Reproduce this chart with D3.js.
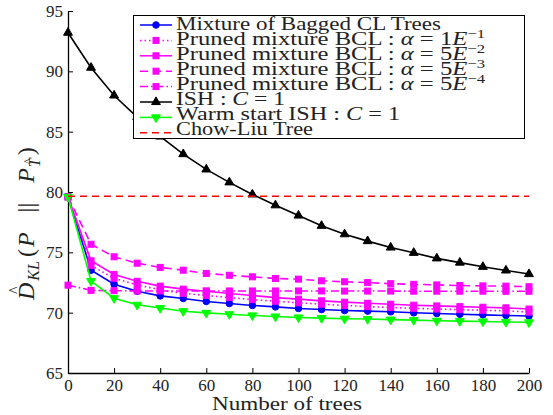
<!DOCTYPE html>
<html>
<head>
<meta charset="utf-8">
<script src="https://cdn.jsdelivr.net/npm/d3@7"></script>
<style>
  body { margin: 0; background: #fff; }
  svg text { font-family: "Liberation Serif", serif; }
</style>
</head>
<body>
<div id="chart"></div>
<script>
// chart data
var trees = [0, 10, 20, 30, 40, 50, 60, 70, 80, 90, 100, 110, 120, 130, 140, 150, 160, 170, 180, 190, 200];

var bagged   = [79.6, 73.52, 72.36, 71.78, 71.39, 71.18, 70.93, 70.76, 70.6, 70.48, 70.35, 70.26, 70.18, 70.13, 70.07, 69.99, 69.93, 69.87, 69.82, 69.77, 69.72];
var pruned1  = [79.6, 73.9, 72.85, 72.3, 71.9, 71.6, 71.42, 71.25, 71.08, 70.95, 70.82, 70.7, 70.6, 70.5, 70.43, 70.36, 70.3, 70.25, 70.2, 70.15, 70.05];
var pruned2  = [79.6, 74.3, 73.17, 72.6, 72.2, 71.95, 71.78, 71.59, 71.42, 71.25, 71.12, 70.98, 70.87, 70.78, 70.7, 70.62, 70.56, 70.5, 70.45, 70.4, 70.3];
var pruned3  = [79.6, 75.67, 74.63, 74.1, 73.75, 73.52, 73.25, 73.1, 72.97, 72.83, 72.78, 72.64, 72.56, 72.49, 72.4, 72.35, 72.3, 72.25, 72.22, 72.2, 72.15];
var pruned4  = [72.28, 71.85, 71.82, 71.8, 71.8, 71.8, 71.8, 71.8, 71.8, 71.8, 71.8, 71.8, 71.79, 71.79, 71.79, 71.78, 71.78, 71.78, 71.78, 71.77, 71.77];
var ish      = [93.2, 90.3, 88.0, 86.2, 84.6, 83.14, 81.87, 80.8, 79.8, 78.9, 78.05, 77.2, 76.5, 75.93, 75.4, 74.96, 74.5, 74.15, 73.8, 73.5, 73.2];
var warmIsh  = [79.6, 72.62, 71.2, 70.65, 70.38, 70.12, 69.98, 69.87, 69.77, 69.68, 69.6, 69.55, 69.5, 69.47, 69.42, 69.38, 69.33, 69.3, 69.27, 69.23, 69.2];
var chowLiu  = 79.65;

var xTicks = [0, 20, 40, 60, 80, 100, 120, 140, 160, 180, 200];
var yTicks = [65, 70, 75, 80, 85, 90, 95];

// series styles (matlab-ish)
var series = [
  {vals: bagged,  color: "#0000ff", dash: null,          marker: "circle"},
  {vals: pruned1, color: "#ff00ff", dash: "1.5,3",       marker: "square"},
  {vals: pruned2, color: "#ff00ff", dash: null,          marker: "square"},
  {vals: pruned3, color: "#ff00ff", dash: "8,5",         marker: "square"},
  {vals: pruned4, color: "#ff00ff", dash: "8,3,1.5,3",   marker: "square"},
  {vals: ish,     color: "#000000", dash: null,          marker: "up"},
  {vals: warmIsh, color: "#00ff00", dash: null,          marker: "down"}
];

var width = 553, height = 415;
var serif = "Liberation Serif";

var svg = d3.select("#chart")
  .append("svg")
    .attr("width", width)
    .attr("height", height);

var x = d3.scaleLinear().domain([0, 200]).range([68, 529]);
var y = d3.scaleLinear().domain([65, 95]).range([373, 11]);

function styleAxis(g) {
  g.attr("font-family", serif);
  g.select(".domain").attr("stroke", "#000").attr("stroke-width", 1.3);
  g.selectAll(".tick line").attr("stroke", "#000");
  g.selectAll("text").attr("font-size", 17).attr("fill", "#222");
}

// axes, ticks pointing inward, no box
svg.append("g")
  .attr("transform", "translate(0," + y(65) + ")")
  .call(d3.axisBottom(x).tickValues(xTicks).tickSize(-5).tickPadding(6).tickSizeOuter(0))
  .call(styleAxis);

svg.append("g")
  .attr("transform", "translate(" + x(0) + ",0)")
  .call(d3.axisLeft(y).tickValues(yTicks).tickSize(-5).tickPadding(5).tickSizeOuter(0))
  .call(styleAxis);

// x label
svg.append("text")
  .attr("x", 212).attr("y", 410)
  .attr("font-size", 18)
  .attr("fill", "#222")
  .attr("textLength", 150)
  .attr("lengthAdjust", "spacingAndGlyphs")
  .text("Number of trees");

// y label  D^_KL(P || P_T^), spaced like the latex one; hats drawn as own glyphs
var ylab = svg.append("g")
  .attr("transform", "translate(34,300) rotate(-90)")
  .attr("fill", "#222");
var lt = ylab.append("text").attr("font-size", 24);
lt.append("tspan").attr("font-style", "italic").text("D");
lt.append("tspan").attr("font-style", "italic").attr("font-size", 16).attr("dy", 5).attr("dx", 2).text("KL");
lt.append("tspan").attr("dy", -5).attr("dx", 4).text("(");
lt.append("tspan").attr("font-style", "italic").attr("dx", 2).text("P");
lt.append("tspan").attr("dx", 20).text("||");
lt.append("tspan").attr("font-style", "italic").attr("dx", 20).text("P");
lt.append("tspan").attr("font-style", "italic").attr("font-size", 16).attr("dy", 6).attr("dx", 1).text("T");
lt.append("tspan").attr("font-size", 24).attr("dy", -6).attr("dx", 3).text(")");
// hats over D and T
ylab.append("text").attr("x", 6).attr("y", -14).attr("font-size", 16).text("^");
var tNode = lt.selectAll("tspan").nodes()[6];
var tBox = tNode.getBBox();
ylab.append("text").attr("x", tBox.x + 3).attr("y", tBox.y + 6).attr("font-size", 12).text("^");

var line = d3.line()
  .x(function(d, i) { return x(trees[i]); })
  .y(function(d) { return y(d); });

function drawMarker(g, type, cx, cy, color) {
  if (type == "circle") {
    g.append("circle").attr("cx", cx).attr("cy", cy).attr("r", 3.3)
      .attr("fill", color).attr("stroke", color);
  } else if (type == "square") {
    g.append("rect").attr("x", cx - 3).attr("y", cy - 3)
      .attr("width", 6).attr("height", 6)
      .attr("fill", color).attr("stroke", color);
  } else {
    var s = type == "up" ? 1 : -1;
    var sym = d3.symbol().type(d3.symbolTriangle).size(34);
    g.append("path").attr("d", sym())
      .attr("transform", "translate(" + cx + "," + cy + ") scale(1," + s + ")")
      .attr("fill", color).attr("stroke", color);
  }
}

// curves
series.forEach(function(s) {
  var g = svg.append("g");
  g.append("path")
    .datum(s.vals)
    .attr("d", line)
    .attr("fill", "none")
    .attr("stroke", s.color)
    .attr("stroke-width", 1.6)
    .attr("stroke-dasharray", s.dash);
  s.vals.forEach(function(v, i) {
    drawMarker(g, s.marker, x(trees[i]), y(v), s.color);
  });
});

// chow-liu reference line
svg.append("line")
  .attr("x1", x(0)).attr("x2", x(200))
  .attr("y1", y(chowLiu)).attr("y2", y(chowLiu))
  .attr("stroke", "#ff0000")
  .attr("stroke-width", 1.5)
  .attr("stroke-dasharray", "7,5");

// legend (len = text width in the picture)
var legendItems = [
  {label: [["Mixture of Bagged CL Trees"]], len: 265, color: "#0000ff", dash: null, marker: "circle"},
  {label: [["Pruned mixture BCL : "], ["\u03b1", "i"], [" = 1"], ["E", "i"], ["\u22121", "sup"]], len: 309, color: "#ff00ff", dash: "1.5,3", marker: "square"},
  {label: [["Pruned mixture BCL : "], ["\u03b1", "i"], [" = 5"], ["E", "i"], ["\u22122", "sup"]], len: 309, color: "#ff00ff", dash: null, marker: "square"},
  {label: [["Pruned mixture BCL : "], ["\u03b1", "i"], [" = 5"], ["E", "i"], ["\u22123", "sup"]], len: 309, color: "#ff00ff", dash: "8,5", marker: "square"},
  {label: [["Pruned mixture BCL : "], ["\u03b1", "i"], [" = 5"], ["E", "i"], ["\u22124", "sup"]], len: 309, color: "#ff00ff", dash: "8,3,1.5,3", marker: "square"},
  {label: [["ISH : "], ["C", "i"], [" = 1"]], len: 109, color: "#000000", dash: null, marker: "up"},
  {label: [["Warm start ISH : "], ["C", "i"], [" = 1"]], len: 224, color: "#00ff00", dash: null, marker: "down"},
  {label: [["Chow-Liu Tree"]], len: 137, color: "#ff0000", dash: "7,5", marker: null}
];

var leg = svg.append("g");
leg.append("rect")
  .attr("x", 133.5).attr("y", 15.5)
  .attr("width", 391).attr("height", 123)
  .attr("fill", "#fff")
  .attr("stroke", "#000")
  .attr("stroke-width", 1);

legendItems.forEach(function(it, i) {
  var ly = 25 + i * 15.4;
  leg.append("line")
    .attr("x1", 140).attr("x2", 172)
    .attr("y1", ly).attr("y2", ly)
    .attr("stroke", it.color)
    .attr("stroke-width", 1.5)
    .attr("stroke-dasharray", it.dash);
  if (it.marker) drawMarker(leg, it.marker, 156, ly, it.color);
  var t = leg.append("text")
    .attr("x", 176).attr("y", 29.5 + i * 15.1)
    .attr("font-size", 18.5)
    .attr("fill", "#222")
    .attr("textLength", it.len)
    .attr("lengthAdjust", "spacingAndGlyphs");
  it.label.forEach(function(p) {
    var ts = t.append("tspan").text(p[0]);
    if (p[1] == "i") ts.attr("font-style", "italic");
    if (p[1] == "sup") ts.attr("font-size", 12.5).attr("dy", -7);
  });
});
</script>
</body>
</html>
